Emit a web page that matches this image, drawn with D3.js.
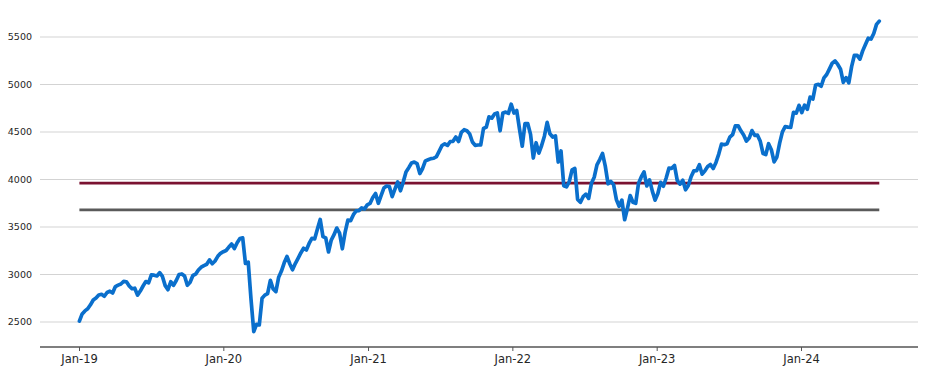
<!DOCTYPE html>
<html>
<head>
<meta charset="utf-8">
<script src="https://cdn.jsdelivr.net/npm/d3@7"></script>
<style>
  body { margin: 0; background: #fff; }
  text { font-family: "DejaVu Sans", sans-serif; fill: #262626; }
</style>
</head>
<body>
<div id="chart"></div>
<script>
// ==== Data: weekly (Wednesday) index closes, Jan-2019 -> Jul-2024 ====
const firstWeek = "2019-01-02";

const values2019 = [2510, 2585, 2617, 2639, 2681, 2732, 2753, 2785, 2792, 2771, 2811, 2824, 2805,
  2873, 2888, 2900, 2927, 2924, 2879, 2850, 2856, 2783, 2826, 2879, 2926, 2913,
  2996, 2993, 2985, 3019, 2980, 2883, 2840, 2924, 2887, 2937, 3000, 3006, 2984,
  2887, 2919, 2990, 3004, 3047, 3077, 3094, 3108, 3154, 3113, 3142, 3191, 3223];
const values2020 = [3240, 3253, 3289, 3321, 3273, 3334, 3379, 3386, 3116, 3130, 2741, 2398, 2475,
  2470, 2750, 2783, 2799, 2939, 2848, 2820, 2972, 3036, 3123, 3190, 3113, 3050,
  3115, 3170, 3227, 3276, 3258, 3327, 3380, 3375, 3479, 3580, 3399, 3385, 3237,
  3363, 3419, 3489, 3436, 3271, 3443, 3572, 3567, 3630, 3669, 3672, 3701, 3690, 3733];
const values2021 = [3748, 3810, 3852, 3750, 3831, 3910, 3931, 3925, 3820, 3899, 3975, 3881, 3973,
  4080, 4125, 4173, 4183, 4168, 4063, 4116, 4196, 4208, 4220, 4224, 4241, 4298,
  4358, 4375, 4359, 4400, 4402, 4447, 4400, 4496, 4524, 4514, 4480, 4395, 4359,
  4363, 4364, 4537, 4551, 4660, 4646, 4689, 4701, 4513, 4701, 4709, 4696, 4793];
const values2022 = [4700, 4726, 4533, 4350, 4589, 4588, 4475, 4226, 4387, 4278, 4358, 4456, 4602,
  4481, 4447, 4459, 4184, 4300, 3935, 3923, 3978, 4101, 4116, 3790, 3760, 3819,
  3845, 3801, 3960, 4024, 4155, 4210, 4274, 4141, 3955, 3980, 3946, 3790, 3719,
  3783, 3577, 3695, 3831, 3760, 3749, 3959, 4027, 4080, 3933, 3996, 3878, 3783];
const values2023 = [3853, 3970, 3929, 4016, 4119, 4118, 4148, 3991, 3951, 3992, 3892, 3937, 4028,
  4091, 4092, 4155, 4056, 4091, 4137, 4158, 4115, 4180, 4268, 4373, 4366, 4377,
  4446, 4473, 4565, 4566, 4513, 4468, 4404, 4436, 4515, 4465, 4467, 4402, 4274,
  4263, 4377, 4314, 4186, 4237, 4383, 4502, 4557, 4551, 4549, 4707, 4698, 4781];
const values2024 = [4705, 4783, 4739, 4868, 4846, 4995, 5001, 4982, 5069, 5105, 5165, 5225, 5248,
  5211, 5161, 5022, 5072, 5018, 5188, 5308, 5307, 5267, 5354, 5421, 5487, 5478,
  5537, 5633, 5667];

// reference levels
const upperLevel = 3962;   // dark red line
const lowerLevel = 3680;   // grey line

const yTicks = [2500, 3000, 3500, 4000, 4500, 5000, 5500];
const xTickYears = [2019, 2020, 2021, 2022, 2023, 2024];

// ==== Setup ====
const width = 925, height = 370;
const svg = d3.select("#chart").append("svg")
  .attr("width", width)
  .attr("height", height);

const allValues = [].concat(values2019, values2020, values2021, values2022, values2023, values2024);
const start = d3.timeParse("%Y-%m-%d")(firstWeek);
const series = allValues.map((v, i) => ({ date: d3.timeWeek.offset(start, i), value: v }));

const x = d3.scaleTime()
  .domain([new Date(2019, 0, 1), new Date(2024, 0, 1)])
  .range([79, 801]);
const y = d3.scaleLinear()
  .domain([2237, 5800])
  .range([347, 8.5]);

const plotLeft = 40, plotRight = 918;

// gridlines
svg.append("g")
  .selectAll("line")
  .data(yTicks)
  .join("line")
  .attr("x1", plotLeft).attr("x2", plotRight)
  .attr("y1", d => y(d)).attr("y2", d => y(d))
  .attr("stroke", "#d3d3d3")
  .attr("stroke-width", 1.2);

// y labels
svg.append("g")
  .selectAll("text")
  .data(yTicks)
  .join("text")
  .attr("x", 32)
  .attr("y", d => y(d))
  .attr("dy", "0.35em")
  .attr("text-anchor", "end")
  .attr("font-size", 9.5)
  .text(d => d);

// x axis
const xAxis = d3.axisBottom(x)
  .tickValues(xTickYears.map(yr => new Date(yr, 0, 1)))
  .tickFormat(d3.timeFormat("%b-%y"))
  .tickSize(4)
  .tickPadding(4);

const gx = svg.append("g")
  .attr("transform", `translate(0,${y(2237)})`)
  .call(xAxis);
gx.select(".domain").remove();
gx.selectAll(".tick line").attr("stroke", "#555");
gx.selectAll(".tick text")
  .attr("font-size", 11.5)
  .attr("font-family", "DejaVu Sans Condensed, DejaVu Sans, sans-serif")
  .attr("fill", "#262626");
gx.append("line")
  .attr("x1", plotLeft).attr("x2", plotRight)
  .attr("stroke", "#555")
  .attr("stroke-width", 1.3);

// reference lines
const first = series[0].date, last = series[series.length - 1].date;
[[upperLevel, "#7a1231"], [lowerLevel, "#5a5a5a"]].forEach(([lvl, col]) => {
  svg.append("line")
    .attr("x1", x(first)).attr("x2", x(last))
    .attr("y1", y(lvl)).attr("y2", y(lvl))
    .attr("stroke", col)
    .attr("stroke-width", 2.6);
});

// main series
const line = d3.line()
  .x(d => x(d.date))
  .y(d => y(d.value));

svg.append("path")
  .datum(series)
  .attr("fill", "none")
  .attr("stroke", "#0a6fcc")
  .attr("stroke-width", 3.7)
  .attr("stroke-linejoin", "round")
  .attr("stroke-linecap", "round")
  .attr("d", line);
</script>
</body>
</html>
